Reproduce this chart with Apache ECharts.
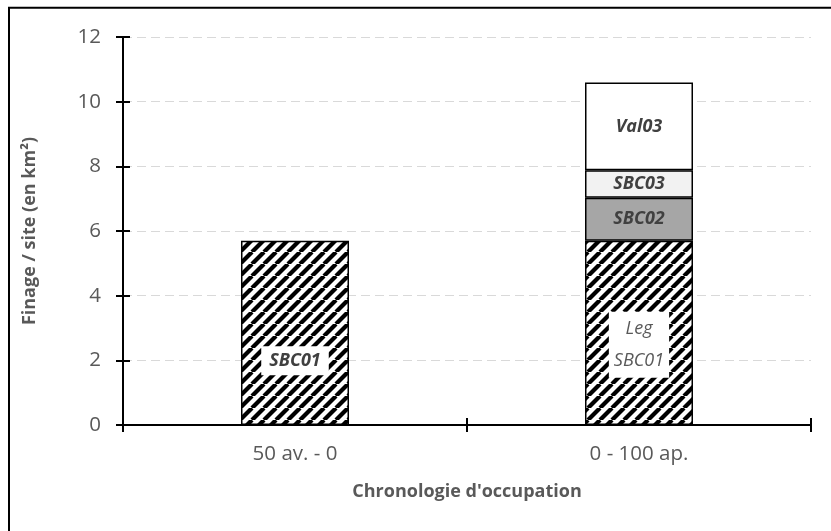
<!DOCTYPE html>
<html>
<head>
<meta charset="utf-8">
<script src="https://cdn.jsdelivr.net/npm/echarts@6/dist/echarts.min.js"></script>
<style>
  html, body { margin: 0; padding: 0; background: #fff; }
  #chart { width: 831px; height: 531px; }
</style>
</head>
<body>
<div id="chart"></div>
<script>
// Periods of occupation and territory per site (km²), stacked by site
const categories = ['50 av. - 0', '0 - 100 ap.'];
const sbc01 = [5.7, 5.7];
const sbc02 = [null, 1.33];
const sbc03 = [null, 0.85];
const val03 = [null, 2.71];
const yMin = 0, yMax = 12, yStep = 2;

// Diagonal hatch tile used for the SBC01 bars
function hatchTile(size, width) {
  const c = document.createElement('canvas');
  c.width = size; c.height = size;
  const g = c.getContext('2d');
  g.fillStyle = '#ffffff';
  g.fillRect(0, 0, size, size);
  g.strokeStyle = '#000000';
  g.lineWidth = width;
  for (let k = -1; k <= 1; k++) {
    g.beginPath();
    g.moveTo(k * size, size);
    g.lineTo(k * size + size, 0);
    g.stroke();
  }
  return c;
}
const hatch = { image: hatchTile(12, 4.2), repeat: 'repeat' };

const font = '"Open Sans", "Liberation Sans", sans-serif';
const labelBase = {
  show: true,
  position: 'inside',
  fontFamily: font,
  fontSize: 18,
  fontStyle: 'italic',
  fontWeight: 'bold',
  color: '#404040'
};
const border = { borderColor: '#000000', borderWidth: 1.5 };

const chart = echarts.init(document.getElementById('chart'), null, { renderer: 'canvas' });
chart.setOption({
  animation: false,
  backgroundColor: '#ffffff',
  grid: { left: 123, right: 20, top: 37, bottom: 106, containLabel: false },
  graphic: [{
    type: 'rect',
    shape: { x: 9, y: 7.7, width: 900, height: 600 },
    style: { fill: null, stroke: '#000000', lineWidth: 2 },
    silent: true
  }],
  xAxis: [{
    type: 'category',
    data: categories,
    axisLine: { lineStyle: { color: '#000000', width: 2 } },
    axisTick: { show: true, length: 7, lineStyle: { color: '#000000', width: 2 } },
    axisLabel: { color: '#595959', fontFamily: font, fontSize: 20.5, margin: 19 },
    name: "Chronologie d'occupation",
    nameLocation: 'middle',
    nameGap: 58,
    nameTextStyle: { color: '#595959', fontFamily: font, fontSize: 18, fontWeight: 'bold' }
  }, {
    type: 'category',
    data: categories,
    position: 'bottom',
    axisLine: { show: false },
    axisTick: { show: true, inside: true, length: 7, lineStyle: { color: '#000000', width: 2 } },
    axisLabel: { show: false }
  }],
  yAxis: [{
    type: 'value',
    min: yMin, max: yMax, interval: yStep,
    axisLine: { show: true, lineStyle: { color: '#000000', width: 2 } },
    axisTick: { show: true, length: 7, lineStyle: { color: '#000000', width: 2 } },
    axisLabel: { color: '#595959', fontFamily: font, fontSize: 20.5, margin: 22 },
    splitLine: { show: true, lineStyle: { color: '#d9d9d9', type: [9, 5], width: 1 } },
    name: 'Finage / site (en km²)',
    nameLocation: 'middle',
    nameGap: 84,
    nameTextStyle: { color: '#595959', fontFamily: font, fontSize: 18, fontWeight: 'bold' }
  }, {
    type: 'value',
    min: yMin, max: yMax, interval: yStep,
    position: 'left',
    axisLine: { show: false },
    axisTick: { show: true, inside: true, length: 7, lineStyle: { color: '#000000', width: 2 } },
    axisLabel: { show: false },
    splitLine: { show: false }
  }],
  series: [{
    name: 'SBC01',
    type: 'bar',
    stack: 'site',
    barWidth: 108,
    itemStyle: Object.assign({ color: hatch }, border),
    data: [
      { value: sbc01[0], label: Object.assign({}, labelBase, {
          formatter: 'SBC01', backgroundColor: '#ffffff', padding: [6, 8, 5, 8], offset: [0, 28] }) },
      { value: sbc01[1], label: Object.assign({}, labelBase, {
          formatter: 'Leg\nSBC01', fontWeight: 'normal', color: '#595959', lineHeight: 32,
          backgroundColor: '#ffffff', padding: [1, 5, 1, 5], offset: [0, 12] }) }
    ]
  }, {
    name: 'SBC02',
    type: 'bar',
    stack: 'site',
    itemStyle: Object.assign({ color: '#a6a6a6' }, border),
    label: Object.assign({}, labelBase, { formatter: 'SBC02' }),
    data: sbc02
  }, {
    name: 'SBC03',
    type: 'bar',
    stack: 'site',
    itemStyle: Object.assign({ color: '#f2f2f2' }, border),
    label: Object.assign({}, labelBase, { formatter: 'SBC03' }),
    data: sbc03
  }, {
    name: 'Val03',
    type: 'bar',
    stack: 'site',
    itemStyle: Object.assign({ color: '#ffffff' }, border),
    label: Object.assign({}, labelBase, { formatter: 'Val03' }),
    data: val03
  }]
});
</script>
</body>
</html>
